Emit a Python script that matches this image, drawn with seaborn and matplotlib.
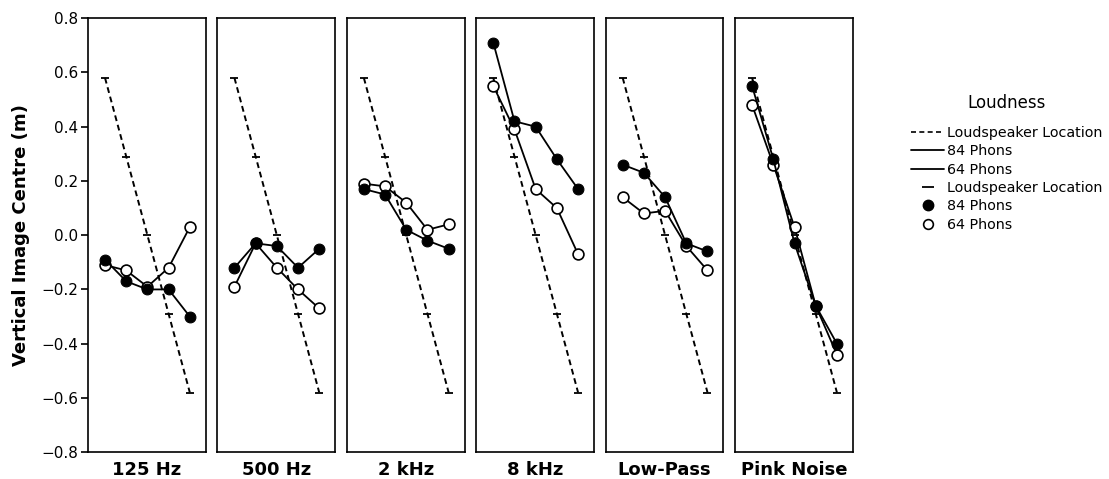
import matplotlib
matplotlib.use("Agg")
import matplotlib.pyplot as plt
from matplotlib.lines import Line2D
import seaborn as sns
import numpy as np

# panel labels and speaker positions
stimuli = ["125 Hz", "500 Hz", "2 kHz", "8 kHz", "Low-Pass", "Pink Noise"]
speaker_pos = [0.58, 0.29, 0.0, -0.29, -0.58]
ytick_vals = [-0.8, -0.6, -0.4, -0.2, 0.0, 0.2, 0.4, 0.6, 0.8]

phons84 = {
    "125 Hz": [-0.09, -0.17, -0.20, -0.20, -0.30],
    "500 Hz": [-0.12, -0.03, -0.04, -0.12, -0.05],
    "2 kHz": [0.17, 0.15, 0.02, -0.02, -0.05],
    "8 kHz": [0.71, 0.42, 0.40, 0.28, 0.17],
    "Low-Pass": [0.26, 0.23, 0.14, -0.03, -0.06],
    "Pink Noise": [0.55, 0.28, -0.03, -0.26, -0.40],
}
phons64 = {
    "125 Hz": [-0.11, -0.13, -0.19, -0.12, 0.03],
    "500 Hz": [-0.19, -0.03, -0.12, -0.20, -0.27],
    "2 kHz": [0.19, 0.18, 0.12, 0.02, 0.04],
    "8 kHz": [0.55, 0.39, 0.17, 0.10, -0.07],
    "Low-Pass": [0.14, 0.08, 0.09, -0.04, -0.13],
    "Pink Noise": [0.48, 0.26, 0.03, -0.26, -0.44],
}

sns.set_style("white")
plt.rcParams['font.family'] = ['DejaVu Sans']
plt.rcParams['text.color'] = 'black'
plt.rcParams['axes.labelcolor'] = 'black'
plt.rcParams['ytick.color'] = 'black'

fig, axes = plt.subplots(1, 6, figsize=(11.09, 4.79), dpi=100, sharey=True)
plt.subplots_adjust(left=0.0794, right=0.769, top=0.962, bottom=0.056, wspace=0.1)

xs = np.arange(5)
for ax, stim in zip(axes, stimuli):
    sns.lineplot(x=xs, y=speaker_pos, ax=ax, color='black', linestyle=(0, (3, 2)),
                 linewidth=1.4, marker='_', markersize=6, markeredgewidth=1.3,
                 markeredgecolor='black')
    sns.lineplot(x=xs, y=phons64[stim], ax=ax, color='black', linewidth=1.3,
                 marker='o', markersize=7.8, markerfacecolor='white',
                 markeredgecolor='black', markeredgewidth=1.2)
    sns.lineplot(x=xs, y=phons84[stim], ax=ax, color='black', linewidth=1.3,
                 marker='o', markersize=7.8, markerfacecolor='black',
                 markeredgecolor='black')
    ax.set_xlim(-0.8, 4.75)
    ax.set_ylim(-0.8, 0.8)
    ax.set_xticks([])
    ax.set_xlabel(stim, fontsize=13, fontweight='bold', labelpad=6)
    for s in ax.spines.values():
        s.set_color('black')
        s.set_linewidth(1.2)

axes[0].set_yticks(ytick_vals)
axes[0].set_yticklabels([f"{v:.1f}".replace("-", "\u2212") for v in ytick_vals])
axes[0].tick_params(axis='y', left=True, length=5, width=1.2, labelsize=11, pad=2)
axes[0].set_ylabel("Vertical Image Centre (m)", fontsize=13, fontweight='bold', labelpad=8)
for ax in axes[1:]:
    ax.tick_params(axis='y', left=False)

handles = [
    Line2D([], [], color='black', linestyle=(0, (3, 2)), linewidth=1.2),
    Line2D([], [], color='black', linewidth=1.3),
    Line2D([], [], color='black', linewidth=1.3),
    Line2D([], [], color='black', linestyle='none', marker='_', markersize=8, markeredgewidth=1.3),
    Line2D([], [], color='black', linestyle='none', marker='o', markersize=7.5),
    Line2D([], [], color='black', linestyle='none', marker='o', markersize=7,
           markerfacecolor='white', markeredgewidth=1.2),
]
labels = ["Loudspeaker Location", "84 Phons", "64 Phons",
          "Loudspeaker Location", "84 Phons", "64 Phons"]
leg = fig.legend(handles, labels, title="Loudness", loc='upper left',
                 bbox_to_anchor=(0.81, 0.83), frameon=False, fontsize=10.3,
                 title_fontsize=12, handlelength=2.3, handletextpad=0.2,
                 labelspacing=0.3)
leg._legend_box.sep = 10

plt.savefig("out.png", dpi=100)
